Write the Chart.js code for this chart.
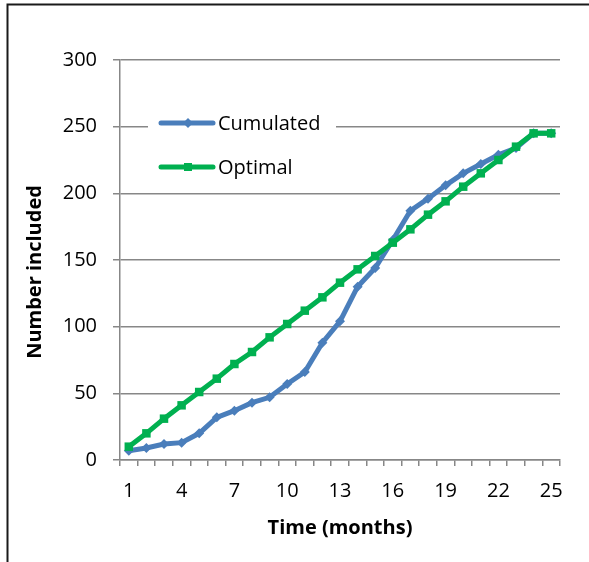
<!DOCTYPE html>
<html>
<head>
<meta charset="utf-8">
<script src="https://cdn.jsdelivr.net/npm/chart.js@4.4.1/dist/chart.umd.min.js"></script>
<style>
  html, body { margin: 0; padding: 0; background: #fff; }
  #wrap { width: 589px; height: 562px; }
</style>
</head>
<body>
<div id="wrap"><canvas id="grafico" width="589" height="562"></canvas></div>
<script>
// Dados
const meses = ['1','2','3','4','5','6','7','8','9','10','11','12','13','14','15','16','17','18','19','20','21','22','23','24','25'];
const cumulado = [7, 9, 12, 13, 20, 32, 37, 43, 47, 57, 66, 88, 104, 130, 144, 165, 187, 196, 206, 215, 222, 229, 234, 245, 245];
const otimo = [10, 20, 31, 41, 51, 61, 72, 81, 92, 102, 112, 122, 133, 143, 153, 163, 173, 184, 194, 205, 215, 225, 235, 245, 245];
const yMin = 0, yMax = 300, yPasso = 50;

const azul = '#4a7ebb';
const verde = '#00b050';
const cinza = '#878787';
const fonte = "'Open Sans', sans-serif";

// Moldura (linhas em cima e à esquerda)
const moldura = {
  id: 'moldura',
  beforeDraw(chart) {
    const ctx = chart.ctx;
    ctx.save();
    ctx.fillStyle = '#fff';
    ctx.fillRect(0, 0, chart.width, chart.height);
    ctx.strokeStyle = '#1a1a1a';
    ctx.lineWidth = 2;
    ctx.beginPath();
    ctx.moveTo(7.5, 562);
    ctx.lineTo(7.5, 4.5);
    ctx.lineTo(589, 4.5);
    ctx.stroke();
    ctx.restore();
  }
};

// Legenda desenhada dentro da área do gráfico
const legenda = {
  id: 'legenda',
  afterDatasetsDraw(chart) {
    const ctx = chart.ctx;
    ctx.save();
    ctx.fillStyle = '#fff';
    ctx.fillRect(148, 104, 188, 84);
    const itens = [
      { ds: chart.data.datasets[0], y: 123, forma: 'losango' },
      { ds: chart.data.datasets[1], y: 167, forma: 'quadrado' }
    ];
    itens.forEach(item => {
      ctx.strokeStyle = item.ds.borderColor;
      ctx.fillStyle = item.ds.borderColor;
      ctx.lineWidth = 5;
      ctx.lineCap = 'round';
      ctx.beginPath();
      ctx.moveTo(161, item.y);
      ctx.lineTo(213, item.y);
      ctx.stroke();
      ctx.beginPath();
      if (item.forma === 'losango') {
        ctx.moveTo(188, item.y - 5);
        ctx.lineTo(193, item.y);
        ctx.lineTo(188, item.y + 5);
        ctx.lineTo(183, item.y);
        ctx.closePath();
      } else {
        ctx.rect(184, item.y - 4, 8, 8);
      }
      ctx.fill();
      ctx.fillStyle = '#000';
      ctx.font = '20px ' + fonte;
      ctx.textAlign = 'left';
      ctx.textBaseline = 'middle';
      ctx.fillText(item.ds.label, 218, item.y + 1);
    });
    ctx.restore();
  }
};

// Títulos dos eixos
const titulos = {
  id: 'titulos',
  afterDraw(chart) {
    const ctx = chart.ctx;
    ctx.save();
    ctx.fillStyle = '#000';
    ctx.font = 'bold 20px ' + fonte;
    ctx.textAlign = 'center';
    ctx.textBaseline = 'middle';
    ctx.fillText('Time (months)', 340, 528);
    ctx.translate(35, 272);
    ctx.rotate(-Math.PI / 2);
    ctx.fillText('Number included', 0, 0);
    ctx.restore();
  }
};

const ctx = document.getElementById('grafico').getContext('2d');

new Chart(ctx, {
  type: 'line',
  data: {
    labels: meses,
    datasets: [
      {
        label: 'Cumulated',
        data: cumulado,
        borderColor: azul,
        backgroundColor: azul,
        borderWidth: 5,
        pointStyle: 'rectRot',
        pointRadius: 5,
        pointBorderWidth: 0,
        tension: 0,
        order: 1
      },
      {
        label: 'Optimal',
        data: otimo,
        borderColor: verde,
        backgroundColor: verde,
        borderWidth: 5,
        pointStyle: 'rect',
        pointRadius: 6,
        pointBorderWidth: 0,
        tension: 0,
        order: 0
      }
    ]
  },
  options: {
    responsive: false,
    animation: false,
    devicePixelRatio: 1,
    layout: { padding: { left: 0, top: 60, right: 29, bottom: 0 } },
    plugins: {
      legend: { display: false },
      tooltip: { enabled: false }
    },
    scales: {
      x: {
        offset: true,
        grid: { offset: true, drawOnChartArea: false, drawTicks: true, tickLength: 6, color: cinza, lineWidth: 1.5 },
        border: { color: cinza, width: 1.5 },
        ticks: {
          autoSkip: false,
          maxRotation: 0,
          padding: 13,
          color: '#000',
          font: { family: fonte, size: 20 },
          callback: function (v, i) { return i % 3 === 0 ? this.getLabelForValue(v) : ''; }
        },
        afterFit: s => { s.height = 102; }
      },
      y: {
        min: yMin,
        max: yMax,
        grid: { color: cinza, lineWidth: 1.5, tickLength: 7 },
        border: { color: cinza, width: 1.5 },
        ticks: { stepSize: yPasso, padding: 16, color: '#000', font: { family: fonte, size: 20 } },
        afterFit: s => { s.height = undefined; s.width = 120; }
      }
    }
  },
  plugins: [moldura, legenda, titulos]
});
</script>
</body>
</html>
